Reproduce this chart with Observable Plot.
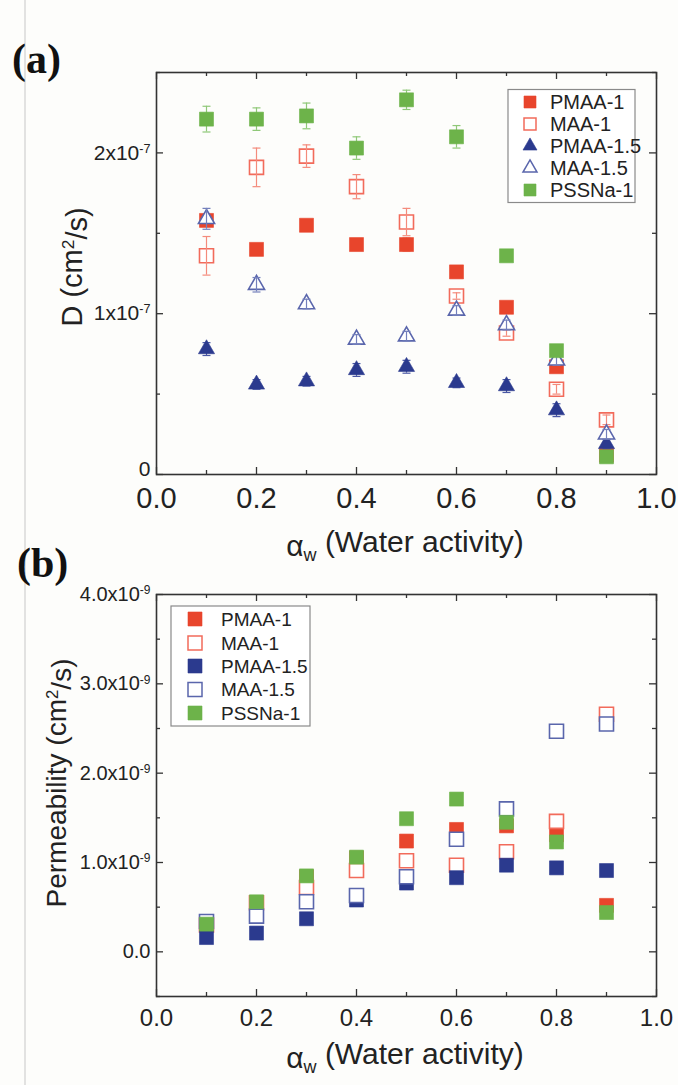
<!DOCTYPE html>
<html><head><meta charset="utf-8">
<script src="https://cdn.jsdelivr.net/npm/d3@7"></script>
<script src="https://cdn.jsdelivr.net/npm/@observablehq/plot@0.6"></script>
<style>
html,body{margin:0;padding:0;background:#fdfdfb;}
#wrap{position:relative;width:678px;height:1085px;overflow:hidden;font-family:"Liberation Sans",Arial,sans-serif;}
.plot{position:absolute;left:0;}
#overlay{position:absolute;left:0;top:0;}
</style></head><body><div id="wrap"></div><script>
const FONT = '"Liberation Sans", Arial, sans-serif';

// ---- data ----
const aw = [0.1, 0.2, 0.3, 0.4, 0.5, 0.6, 0.7, 0.8, 0.9];
const seriesNames = ["PMAA-1", "MAA-1", "PMAA-1.5", "MAA-1.5", "PSSNa-1"];
const seriesColors = ["#e8452c", "#f26b5b", "#2b3a8e", "#5a66ac", "#6db34a"];
const errColors = ["#ee6a56", "#f48b7c", "#4b58a4", "#7480bc", "#8fc878"];
const seriesOpen = [false, true, false, true, false];
const symbolsA = ["square", "square", "triangle", "triangle", "square"];

// Panel (a): diffusion coefficient D, in units of 1e-7 cm^2/s
const D_PMAA1  = [1.58, 1.40, 1.55, 1.43, 1.43, 1.26, 1.04, 0.67, 0.12];
const D_MAA1   = [1.36, 1.91, 1.98, 1.79, 1.57, 1.11, 0.88, 0.53, 0.34];
const D_PMAA15 = [0.78, 0.56, 0.58, 0.65, 0.67, 0.57, 0.55, 0.40, 0.19];
const D_MAA15  = [1.59, 1.18, 1.06, 0.84, 0.86, 1.02, 0.93, 0.71, 0.25];
const D_PSSNa1 = [2.21, 2.21, 2.23, 2.03, 2.33, 2.10, 1.36, 0.77, 0.11];
const E_PMAA1  = [0.03, 0.03, 0.03, 0.03, 0.04, 0.02, 0.02, 0.02, 0.02];
const E_MAA1   = [0.12, 0.12, 0.07, 0.075, 0.085, 0.02, 0.02, 0.03, 0.03];
const E_PMAA15 = [0.04, 0.03, 0.03, 0.04, 0.04, 0.03, 0.04, 0.04, 0.03];
const E_MAA15  = [0.065, 0.045, 0.03, 0.03, 0.03, 0.03, 0.03, 0.03, 0.03];
const E_PSSNa1 = [0.08, 0.07, 0.08, 0.07, 0.06, 0.07, 0.02, 0.02, 0.02];

// Panel (b): permeability, in units of 1e-9 cm^2/s
const P_PMAA1  = [0.30, 0.55, 0.84, 1.05, 1.24, 1.37, 1.41, 1.31, 0.52];
const P_MAA1   = [0.30, 0.55, 0.72, 0.91, 1.02, 0.97, 1.12, 1.46, 2.66];
const P_PMAA15 = [0.16, 0.21, 0.37, 0.58, 0.77, 0.83, 0.97, 0.94, 0.91];
const P_MAA15  = [0.34, 0.40, 0.56, 0.63, 0.84, 1.26, 1.60, 2.47, 2.55];
const P_PSSNa1 = [0.31, 0.56, 0.85, 1.06, 1.49, 1.71, 1.45, 1.23, 0.44];

// ticks
const xMajor = [0, 0.2, 0.4, 0.6, 0.8, 1.0];
const xMinor = [0.1, 0.3, 0.5, 0.7, 0.9];
const xTickLabels = ["0.0", "0.2", "0.4", "0.6", "0.8", "1.0"];
const yMajorA = [0, 1, 2];
const yMinorA = [0.5, 1.5, 2.5];
const yTickLabelsA = ["0", "1x10^-7", "2x10^-7"];
const yMajorB = [0, 1, 2, 3, 4];
const yMinorB = [-0.5, 0.5, 1.5, 2.5, 3.5];
const yTickLabelsB = ["0.0", "1.0x10^-9", "2.0x10^-9", "3.0x10^-9", "4.0x10^-9"];

// ---- helpers ----
const wrap = document.getElementById("wrap");
const capSym = {draw(ctx) { ctx.moveTo(-4, 0); ctx.lineTo(4, 0); }};

function rows(vals, errs) { return aw.map((x, i) => ({x, y: vals[i], e: errs ? errs[i] : 0})); }

function seriesMarks(data, k, symbol, r) {
  const color = seriesColors[k], open = seriesOpen[k];
  const we = data.filter(d => d.e > 0);
  const ec = errColors[k];
  const err = we.length ? [
    Plot.ruleX(we, {x: "x", y1: d => d.y - d.e, y2: d => d.y + d.e, stroke: ec, strokeWidth: 1.2}),
    Plot.dot(we, {x: "x", y: d => d.y + d.e, symbol: capSym, fill: "none", stroke: ec, strokeWidth: 1.2}),
    Plot.dot(we, {x: "x", y: d => d.y - d.e, symbol: capSym, fill: "none", stroke: ec, strokeWidth: 1.2})
  ] : [];
  const dot = Plot.dot(data, {x: "x", y: "y", symbol, r,
    fill: open ? "#ffffff" : color, stroke: color, strokeWidth: open ? 1.6 : 0.6});
  return open ? [dot, ...err] : [...err, dot];
}

function frameMarks(yMaj, yMin, plotW, plotH) {
  const st = {stroke: "#333", strokeWidth: 1.3};
  return [
    Plot.tickX(xMajor, {x: d => d, insetTop: plotH - 7, ...st}),
    Plot.tickX(xMajor, {x: d => d, insetBottom: plotH - 7, ...st}),
    Plot.tickX(xMinor, {x: d => d, insetTop: plotH - 4, ...st}),
    Plot.tickX(xMinor, {x: d => d, insetBottom: plotH - 4, ...st}),
    Plot.tickY(yMaj, {y: d => d, insetRight: plotW - 7, ...st}),
    Plot.tickY(yMaj, {y: d => d, insetLeft: plotW - 7, ...st}),
    Plot.tickY(yMin, {y: d => d, insetRight: plotW - 4, ...st}),
    Plot.tickY(yMin, {y: d => d, insetLeft: plotW - 4, ...st}),
    Plot.frame({stroke: "#333", strokeWidth: 1.6})
  ];
}

function supify(svg) {
  svg.querySelectorAll('g[aria-label="y-axis tick label"] text').forEach(t => {
    const s = t.textContent;
    if (!s.includes("^")) return;
    const [base, exp] = s.split("^");
    t.textContent = base;
    const ts = document.createElementNS("http://www.w3.org/2000/svg", "tspan");
    ts.setAttribute("dy", "-0.55em");
    ts.setAttribute("font-size", "0.6em");
    ts.textContent = exp;
    t.appendChild(ts);
  });
}

// ---- panel (a) ----
const WA = 678, HA = 560, mlA = 156, mrA = 22, mtA = 72, mbA = 86;
const dataA = [
  rows(D_PMAA1, E_PMAA1), rows(D_MAA1, E_MAA1), rows(D_PMAA15, E_PMAA15),
  rows(D_MAA15, E_MAA15), rows(D_PSSNa1, E_PSSNa1)
];
const labA = d => yTickLabelsA[yMajorA.indexOf(d)];
const plotA = Plot.plot({
  width: WA, height: HA, marginLeft: mlA, marginRight: mrA, marginTop: mtA, marginBottom: mbA,
  style: {fontFamily: FONT, background: "transparent", color: "#222", overflow: "visible"},
  x: {domain: [0, 1]},
  y: {domain: [0, 2.5]},
  marks: [
    Plot.axisX({ticks: xMajor, tickSize: 0, tickPadding: 13, fontSize: 29, label: null,
      tickFormat: d => xTickLabels[xMajor.indexOf(d)]}),
    Plot.axisY({ticks: yMajorA.slice(0, 1), tickSize: 0, tickPadding: 6, fontSize: 21, label: null,
      dy: -5, tickFormat: labA}),
    Plot.axisY({ticks: yMajorA.slice(1), tickSize: 0, tickPadding: 6, fontSize: 21, label: null,
      tickFormat: labA}),
    ...dataA.flatMap((d, k) => seriesMarks(d, k, symbolsA[k], symbolsA[k] === "square" ? 7.9 : 6.0)),
    ...frameMarks(yMajorA, yMinorA, WA - mlA - mrA, HA - mtA - mbA)
  ]
});
plotA.classList.add("plot");
plotA.style.top = "0px";
supify(plotA);
wrap.appendChild(plotA);

// ---- panel (b) ----
const WB = 678, HB = 545, mlB = 156, mrB = 22, mtB = 54, mbB = 89;
const dataB = [rows(P_PMAA1), rows(P_MAA1), rows(P_PMAA15), rows(P_MAA15), rows(P_PSSNa1)];
const plotB = Plot.plot({
  width: WB, height: HB, marginLeft: mlB, marginRight: mrB, marginTop: mtB, marginBottom: mbB,
  style: {fontFamily: FONT, background: "transparent", color: "#222", overflow: "visible"},
  x: {domain: [0, 1]},
  y: {domain: [-0.5, 4]},
  marks: [
    Plot.axisX({ticks: xMajor, tickSize: 0, tickPadding: 12, fontSize: 24, label: null,
      tickFormat: d => xTickLabels[xMajor.indexOf(d)]}),
    Plot.axisY({ticks: yMajorB, tickSize: 0, tickPadding: 6, fontSize: 20, label: null,
      tickFormat: d => yTickLabelsB[yMajorB.indexOf(d)]}),
    ...dataB.flatMap((d, k) => seriesMarks(d, k, "square", 7.9)),
    ...frameMarks(yMajorB, yMinorB, WB - mlB - mrB, HB - mtB - mbB)
  ]
});
plotB.classList.add("plot");
plotB.style.top = "540px";
supify(plotB);
wrap.appendChild(plotB);

// ---- overlay: panel labels, axis titles, legends ----
const ov = d3.select(wrap).append("svg").attr("id", "overlay")
  .attr("width", 678).attr("height", 1085)
  .style("font-family", FONT).style("pointer-events", "none");

ov.append("line").attr("x1", 25).attr("x2", 25).attr("y1", 0).attr("y2", 1085)
  .attr("stroke", "#d9d9d9").attr("stroke-width", 1.5);

const panelLabel = (txt, x, y) => ov.append("text").attr("x", x).attr("y", y)
  .attr("font-family", '"Liberation Serif", "DejaVu Serif", serif').attr("font-weight", "bold")
  .attr("font-size", 42).attr("fill", "#111").text(txt);
panelLabel("(a)", 12, 73);
panelLabel("(b)", 17, 577);

function xTitle(y) {
  const t = ov.append("text").attr("x", 405).attr("y", y).attr("text-anchor", "middle")
    .attr("font-size", 30).attr("fill", "#222");
  t.append("tspan").text("α");
  t.append("tspan").attr("dy", "0.3em").attr("font-size", 18).text("w");
  t.append("tspan").attr("dy", "-0.3em").text(" (Water activity)");
}
xTitle(556);
xTitle(1068);

function yTitle(x, y, size, label) {
  const t = ov.append("text").attr("transform", `translate(${x},${y}) rotate(-90)`)
    .attr("text-anchor", "middle").attr("font-size", size).attr("fill", "#222");
  t.append("tspan").text(label + " (cm");
  t.append("tspan").attr("dy", "-0.45em").attr("font-size", size * 0.6).text("2");
  t.append("tspan").attr("dy", "0.45em").text("/s)");
}
yTitle(82, 267, 29, "D");
yTitle(66, 783, 28, "Permeability");

function legend(x0, y0, w, h, symX, txtX, rowY, size, fontSize, symbols) {
  ov.append("rect").attr("x", x0).attr("y", y0).attr("width", w).attr("height", h)
    .attr("fill", "#ffffff").attr("stroke", "#8a8a8a").attr("stroke-width", 1.2);
  seriesNames.forEach((name, k) => {
    const y = rowY[k];
    const color = seriesColors[k], open = seriesOpen[k];
    const area = symbols[k] === "triangle" ? (Math.sqrt(3) / 4) * (size + 2) * (size + 2) : size * size;
    const sym = symbols[k] === "triangle" ? d3.symbolTriangle : d3.symbolSquare;
    ov.append("path").attr("d", d3.symbol(sym, area)())
      .attr("transform", `translate(${symX},${y})`)
      .attr("fill", open ? "#ffffff" : color).attr("stroke", color)
      .attr("stroke-width", open ? 1.5 : 0.6);
    ov.append("text").attr("x", txtX).attr("y", y).attr("dy", "0.36em")
      .attr("font-size", fontSize).attr("fill", "#222").text(name);
  });
}
legend(508, 89.5, 127, 113, 530, 550, [102, 124, 146, 168, 190], 12, 20, symbolsA);
legend(171, 606, 139, 120, 195, 221, [619, 643, 666, 689.5, 713], 14, 19,
  ["square", "square", "square", "square", "square"]);
</script></body></html>
